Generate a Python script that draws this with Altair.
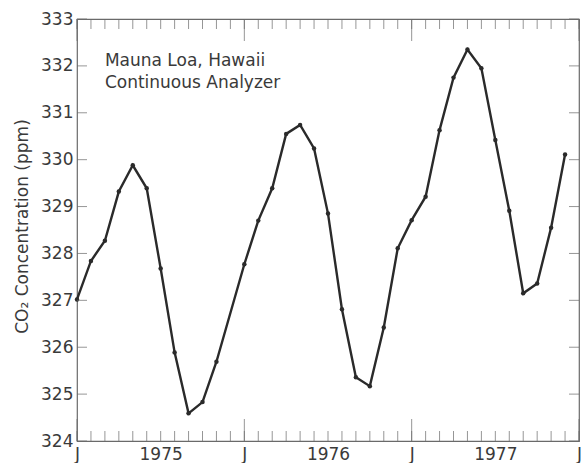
import altair as alt
import pandas as pd

# Monthly mean CO2 at Mauna Loa, months counted from January 1975 (month 11 has no reading)
months = [0, 1, 2, 3, 4, 5, 6, 7, 8, 9, 10,
          12, 13, 14, 15, 16, 17, 18, 19, 20, 21, 22, 23,
          24, 25, 26, 27, 28, 29, 30, 31, 32, 33, 34, 35]
co2 = [327.02, 327.84, 328.27, 329.32, 329.88, 329.39, 327.68, 325.89, 324.59, 324.83, 325.69,
       327.77, 328.70, 329.39, 330.55, 330.74, 330.24, 328.85, 326.81, 325.36, 325.17, 326.42, 328.11,
       328.71, 329.21, 330.63, 331.75, 332.35, 331.95, 330.42, 328.91, 327.15, 327.36, 328.55, 330.11]

# Axis furniture
tick_months = list(range(0, 37))
january_months = [0, 12, 24, 36]
ppm_ticks = list(range(324, 334))
x_label_values = [0, 6, 12, 18, 24, 30, 36]
x_label_text = ["J", "1975", "J", "1976", "J", "1977", "J"]
note_lines = ["Mauna Loa, Hawaii", "Continuous Analyzer"]

FONT = "DejaVu Sans"
INK = "#2a2a2a"
TEXT = "#3a3a3a"
FRAME = "#6a6a6a"

label_expr = " : ".join(
    f"datum.value == {v} ? '{t}'" for v, t in zip(x_label_values, x_label_text)
) + " : ''"

x_scale = alt.Scale(domain=[0, 36], nice=False, zero=False)
y_scale = alt.Scale(domain=[324, 333], nice=False, zero=False)

x_axis = alt.Axis(values=x_label_values, labelExpr=label_expr, ticks=False, domain=False,
                  grid=False, labelFont=FONT, labelFontSize=17, labelColor=TEXT,
                  labelPadding=5, labelFlush=False, title=None)
y_axis = alt.Axis(values=ppm_ticks, ticks=False, domain=False, grid=False,
                  labelFont=FONT, labelFontSize=17, labelColor=TEXT, labelPadding=4,
                  title="CO₂ Concentration (ppm)", titleFont=FONT, titleFontSize=17,
                  titleFontWeight="normal", titleColor=TEXT, titleX=-50, titleY=207,
                  titleAlign="center", titleBaseline="alphabetic", titleAngle=270)

def X(field="month"):
    return alt.X(f"{field}:Q", scale=x_scale, axis=x_axis)

def Y(field="co2"):
    return alt.Y(f"{field}:Q", scale=y_scale, axis=y_axis)

series = pd.DataFrame({"month": months, "co2": co2})
tick_df = pd.DataFrame({"month": tick_months})
jan_df = pd.DataFrame({"month": january_months})
ppm_df = pd.DataFrame({"co2": ppm_ticks})

line = alt.Chart(series).mark_line(color=INK, strokeWidth=2.4).encode(x=X(), y=Y())
dots = alt.Chart(series).mark_circle(color=INK, size=20, opacity=1).encode(x=X(), y=Y())

def month_ticks(df, at, length, offset):
    return alt.Chart(df).mark_tick(
        orient="vertical", size=length, thickness=1, yOffset=offset, color=FRAME
    ).encode(x=X(), y=alt.YDatum(at, axis=y_axis, scale=y_scale))

def ppm_tick_marks(at, offset):
    return alt.Chart(ppm_df).mark_tick(
        orient="horizontal", size=10, thickness=1, xOffset=offset, color=FRAME
    ).encode(y=Y(), x=alt.XDatum(at, axis=x_axis, scale=x_scale))

ticks = [
    month_ticks(tick_df, 324, 10, -5),
    month_ticks(tick_df, 333, 10, 5),
    month_ticks(jan_df, 324, 22, -11),
    month_ticks(jan_df, 333, 22, 11),
    ppm_tick_marks(0, 5),
    ppm_tick_marks(36, -5),
]

note = alt.Chart(pd.DataFrame({"n": [0]})).mark_text(
    text=note_lines, align="left", baseline="alphabetic", font=FONT, fontSize=17,
    color=TEXT, lineHeight=22,
).encode(x=alt.XDatum(2, axis=x_axis, scale=x_scale),
         y=alt.YDatum(332, axis=y_axis, scale=y_scale))

chart = alt.layer(line, dots, note, *ticks).properties(
    width=502, height=422,
    autosize=alt.AutoSizeParams(type="none"),
    padding={"left": 77, "top": 19, "right": 3, "bottom": 22},
).configure_view(stroke=FRAME, strokeWidth=1.2)

chart.save("out.html", embed_options={"renderer": "svg", "actions": False})
